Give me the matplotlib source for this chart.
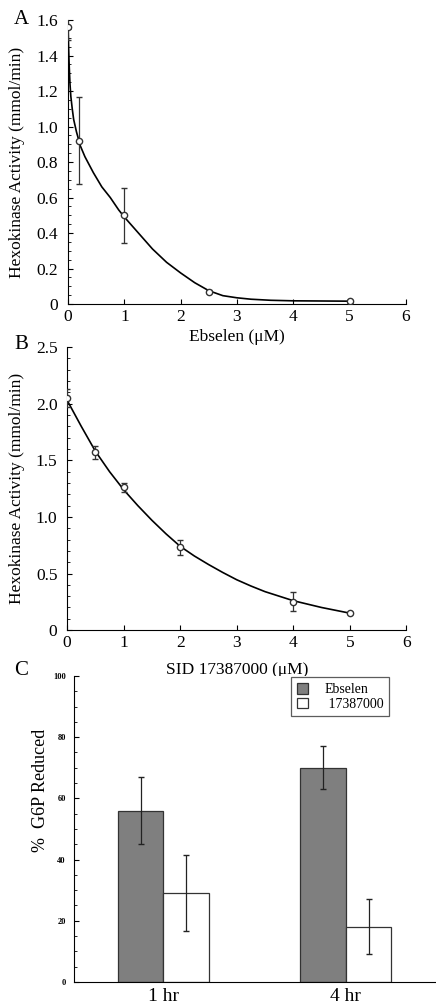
"""Three-panel hexokinase figure: Ebselen and SID 17387000 dose curves, G6P bars."""
import numpy as np
import matplotlib
matplotlib.use("Agg")
import matplotlib.pyplot as plt
from matplotlib.ticker import MultipleLocator

plt.rcParams["font.family"] = ["Liberation Serif", "DejaVu Serif"]

# panel A: Ebselen
ebs_x = [0, 0.2, 1, 2.5, 5]
ebs_y = [1.56, 0.92, 0.50, 0.07, 0.015]
ebs_err = [0.07, 0.245, 0.155, 0.01, 0.008]
# fitted curve
ebs_fit_x = [0, 0.01, 0.02, 0.035, 0.05, 0.075, 0.1, 0.15, 0.22, 0.3, 0.45,
             0.6, 0.75, 0.9, 1.0, 1.25, 1.5, 1.75, 2.0, 2.25, 2.5, 2.75,
             3.0, 3.25, 3.6, 4.0, 4.5, 5.0]
ebs_fit_y = [1.56, 1.45, 1.35, 1.24, 1.17, 1.10, 1.04, 0.97, 0.89, 0.83, 0.74,
             0.66, 0.60, 0.53, 0.49, 0.40, 0.31, 0.235, 0.175, 0.12, 0.075,
             0.047, 0.035, 0.027, 0.021, 0.018, 0.017, 0.016]

# panel B: SID 17387000
sid_x = [0, 0.5, 1, 2, 4, 5]
sid_y = [2.05, 1.57, 1.26, 0.73, 0.25, 0.15]
sid_err = [0.08, 0.06, 0.04, 0.07, 0.085, 0.01]
sid_fit_x = [0, 0.25, 0.5, 0.75, 1, 1.25, 1.5, 1.75, 2, 2.25, 2.5, 2.75, 3,
             3.25, 3.5, 3.75, 4, 4.25, 4.5, 4.75, 5]
sid_fit_y = [2.03, 1.80, 1.58, 1.40, 1.24, 1.10, 0.97, 0.85, 0.74, 0.655,
             0.58, 0.51, 0.445, 0.39, 0.34, 0.30, 0.26, 0.23, 0.20, 0.175,
             0.15]

# panel C: % G6P reduced
times = ["1 hr", "4 hr"]
g6p_ebselen = [56, 70]
g6p_ebselen_err = [11, 7]
g6p_sid = [29, 18]
g6p_sid_err = [12.5, 9]

fig = plt.figure(figsize=(4.36, 10.05), dpi=100)
axA = fig.add_axes([0.156, 0.6975, 0.775, 0.2826])
axB = fig.add_axes([0.154, 0.373, 0.778, 0.2816])
axC = fig.add_axes([0.170, 0.0229, 0.828, 0.3045])

for ax in (axA, axB, axC):
    ax.spines["top"].set_visible(False)
    ax.spines["right"].set_visible(False)
    ax.tick_params(direction="in", labelsize=12.5)
    ax.tick_params(which="minor", direction="in", length=2.5)
for ax in (axA, axB):
    ax.tick_params(axis="y", pad=7)

# A
axA.plot(ebs_fit_x, ebs_fit_y, color="black", lw=1.2)
axA.errorbar(ebs_x, ebs_y, yerr=ebs_err, fmt="o", mfc="white", mec="#333",
             ms=4.5, ecolor="#333", elinewidth=0.9, capsize=2.5, zorder=3)
axA.set_xlim(0, 6)
axA.set_ylim(0, 1.6)
axA.set_yticks([0, 0.2, 0.4, 0.6, 0.8, 1.0, 1.2, 1.4, 1.6])
axA.set_yticklabels(["0", "0.2", "0.4", "0.6", "0.8", "1.0", "1.2", "1.4", "1.6"])
axA.yaxis.set_minor_locator(MultipleLocator(0.05))
axA.set_xticks(range(7))
axA.set_xlabel("Ebselen (\u03bcM)", fontsize=12.5, labelpad=3)
axA.set_ylabel("Hexokinase Activity (mmol/min)", fontsize=12.5)
axA.yaxis.set_label_coords(-0.127, 0.5)
fig.text(0.032, 0.976, "A", fontsize=15)

# B
axB.plot(sid_fit_x, sid_fit_y, color="black", lw=1.2)
axB.errorbar(sid_x, sid_y, yerr=sid_err, fmt="o", mfc="white", mec="#333",
             ms=4.5, ecolor="#333", elinewidth=0.9, capsize=2.5, zorder=3)
axB.set_xlim(0, 6)
axB.set_ylim(0, 2.5)
axB.set_yticks([0, 0.5, 1.0, 1.5, 2.0, 2.5])
axB.set_yticklabels(["0", "0.5", "1.0", "1.5", "2.0", "2.5"])
axB.yaxis.set_minor_locator(MultipleLocator(0.1))
axB.set_xticks(range(7))
axB.set_xlabel("SID 17387000 (\u03bcM)", fontsize=12.5, labelpad=8)
axB.set_ylabel("Hexokinase Activity (mmol/min)", fontsize=12.5)
axB.yaxis.set_label_coords(-0.124, 0.5)
fig.text(0.032, 0.653, "B", fontsize=15)

# C
pos = np.arange(1, len(times) + 1)
w = 0.25
axC.bar(pos - w / 2, g6p_ebselen, width=w, color="#7f7f7f",
        edgecolor="#333", lw=0.9, label="Ebselen")
axC.bar(pos + w / 2, g6p_sid, width=w, color="white",
        edgecolor="#333", lw=0.9, label=" 17387000")
axC.errorbar(pos - w / 2, g6p_ebselen, yerr=g6p_ebselen_err, fmt="none",
             ecolor="#222", elinewidth=0.9, capsize=2.5)
axC.errorbar(pos + w / 2, g6p_sid, yerr=g6p_sid_err, fmt="none",
             ecolor="#222", elinewidth=0.9, capsize=2.5)
axC.set_xlim(0.51, 2.49)
axC.set_ylim(0, 100)
axC.set_xticks(pos)
axC.set_xticklabels(times, fontsize=14)
axC.tick_params(axis="x", length=0, pad=4)
axC.tick_params(axis="y", pad=6)
axC.set_yticks(range(0, 101, 20))
for lab in axC.get_yticklabels():
    lab.set_fontsize(6)
    lab.set_fontweight("bold")
axC.yaxis.set_minor_locator(MultipleLocator(5))
axC.set_ylabel("%  G6P Reduced", fontsize=13)
axC.yaxis.set_label_coords(-0.07, 0.625)
leg = axC.legend(loc="upper right", bbox_to_anchor=(0.872, 0.995), fontsize=10,
                 frameon=True, fancybox=False, edgecolor="#333",
                 handlelength=0.8, handleheight=0.8, borderpad=0.4,
                 labelspacing=0.1, handletextpad=1.2, borderaxespad=0)
leg.get_frame().set_linewidth(0.9)
fig.text(0.032, 0.328, "C", fontsize=15)

fig.savefig("out.png", dpi=100)
